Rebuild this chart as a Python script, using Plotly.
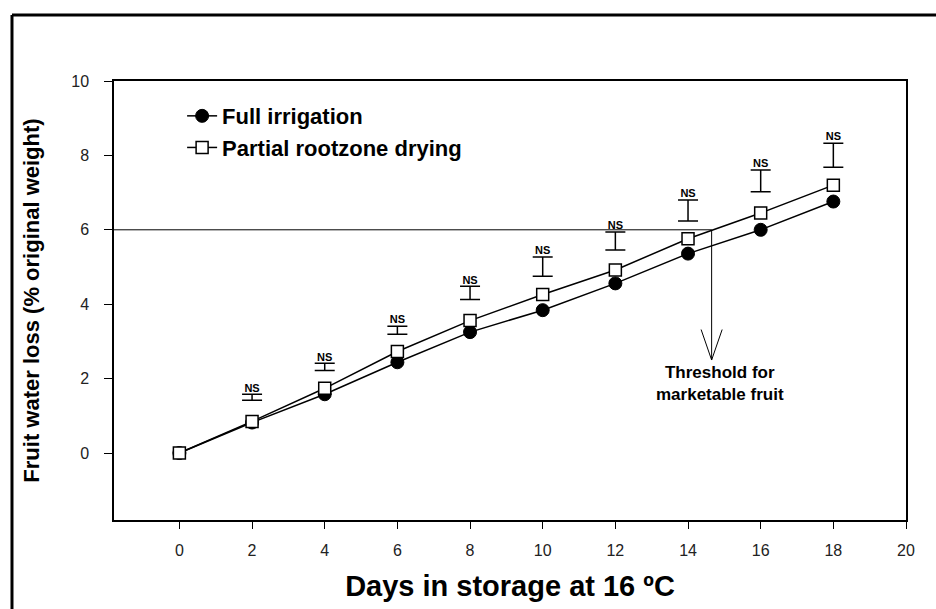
import plotly.graph_objects as go

# ---------------- data ----------------
days = [0, 2, 4, 6, 8, 10, 12, 14, 16, 18]
full_irrigation = [0.0, 0.82, 1.58, 2.44, 3.25, 3.84, 4.56, 5.36, 6.00, 6.76]
partial_rootzone = [0.0, 0.85, 1.74, 2.73, 3.56, 4.26, 4.92, 5.76, 6.45, 7.20]

lsd_days = [2, 4, 6, 8, 10, 12, 14, 16, 18]
lsd_low = [1.42, 2.22, 3.19, 4.13, 4.75, 5.46, 6.24, 7.02, 7.68]
lsd_high = [1.58, 2.41, 3.41, 4.48, 5.27, 5.94, 6.80, 7.61, 8.33]
lsd_label = ["NS"] * len(lsd_days)

x_ticks = [0, 2, 4, 6, 8, 10, 12, 14, 16, 18, 20]
y_ticks = [0, 2, 4, 6, 8, 10]

threshold_value = 6
threshold_day = 14.65
arrow_tip = 2.5

FONT = "Liberation Sans, Arial, sans-serif"

fig = go.Figure()

fig.add_trace(go.Scatter(
    x=days, y=full_irrigation, mode="lines+markers", name="Full irrigation",
    line=dict(color="black", width=1.5),
    marker=dict(symbol="circle", size=13, color="black", line=dict(color="black", width=1)),
))
fig.add_trace(go.Scatter(
    x=days, y=partial_rootzone, mode="lines+markers", name="Partial rootzone drying",
    line=dict(color="black", width=1.5),
    marker=dict(symbol="square", size=12, color="white", line=dict(color="black", width=1.5)),
))

# LSD bars
fig.add_trace(go.Scatter(
    x=lsd_days, y=lsd_low, mode="markers", showlegend=False, hoverinfo="skip",
    marker=dict(size=1, color="rgba(0,0,0,0)"),
    error_y=dict(type="data", symmetric=False,
                 array=[h - l for h, l in zip(lsd_high, lsd_low)],
                 arrayminus=[0] * len(lsd_low),
                 color="black", thickness=1.5, width=10),
))
fig.add_trace(go.Scatter(
    x=lsd_days, y=lsd_high, mode="text", text=lsd_label, showlegend=False,
    textposition="top center", hoverinfo="skip",
    textfont=dict(family=FONT, size=11, color="black", weight="bold"),
))

# threshold line + arrow
shapes = [
    dict(type="line", xref="x", yref="y", x0=-1.8, x1=threshold_day,
         y0=threshold_value, y1=threshold_value, line=dict(color="black", width=1)),
    dict(type="line", xref="x", yref="y", x0=threshold_day, x1=threshold_day,
         y0=threshold_value, y1=arrow_tip, line=dict(color="black", width=1)),
    dict(type="line", xref="x", yref="y", x0=threshold_day - 0.29, x1=threshold_day,
         y0=arrow_tip + 0.82, y1=arrow_tip, line=dict(color="black", width=1)),
    dict(type="line", xref="x", yref="y", x0=threshold_day + 0.29, x1=threshold_day,
         y0=arrow_tip + 0.82, y1=arrow_tip, line=dict(color="black", width=1)),
    # outer frame (left and top)
    dict(type="line", xref="paper", yref="paper", x0=-0.1288, x1=-0.1288,
         y0=-0.3, y1=1.1506, line=dict(color="black", width=3)),
    dict(type="line", xref="paper", yref="paper", x0=-0.1288, x1=1.2,
         y0=1.1506, y1=1.1506, line=dict(color="black", width=3)),
]

fig.add_annotation(
    x=threshold_day + 0.22, y=1.88, xref="x", yref="y", showarrow=False,
    text="Threshold for<br>marketable fruit",
    font=dict(family=FONT, size=17, color="black", weight="bold"),
    align="center",
)

fig.update_layout(
    width=936, height=609,
    margin=dict(l=114, r=30, t=81, b=83),
    plot_bgcolor="white", paper_bgcolor="white",
    shapes=shapes,
    showlegend=True,
    legend=dict(x=0.086, y=0.968, xanchor="left", yanchor="top",
                bgcolor="rgba(0,0,0,0)",
                font=dict(family=FONT, size=22, color="black", weight="bold")),
    xaxis=dict(
        range=[-1.8, 20], tickvals=x_ticks, ticks="outside", ticklen=7, tickwidth=1.3,
        tickcolor="black", showline=True, linecolor="black", linewidth=1.5, mirror=True,
        showgrid=False, zeroline=False, ticklabelstandoff=8,
        tickfont=dict(family=FONT, size=16, color="#222"),
        title=dict(text="Days in storage at 16 ºC", standoff=18,
                   font=dict(family=FONT, size=29, color="black", weight="bold")),
    ),
    yaxis=dict(
        range=[-1.8, 10], tickvals=y_ticks, ticks="outside", ticklen=8, tickwidth=1.3,
        tickcolor="black", showline=True, linecolor="black", linewidth=1.5, mirror=True,
        showgrid=False, zeroline=False, ticklabelstandoff=12,
        tickfont=dict(family=FONT, size=16, color="#222"),
        title=dict(text="Fruit water loss (% original weight)", standoff=26,
                   font=dict(family=FONT, size=22, color="black", weight="bold")),
    ),
)

fig.write_html("out.html")
